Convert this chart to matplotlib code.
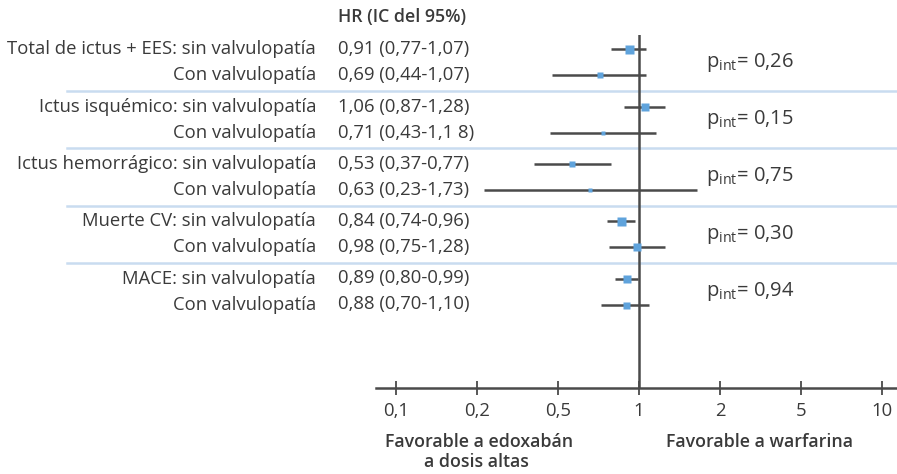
import numpy as np
import matplotlib
matplotlib.use("Agg")
import matplotlib.pyplot as plt
from matplotlib.transforms import blended_transform_factory

plt.rcParams['font.family'] = ['Open Sans', 'DejaVu Sans']
plt.rcParams['mathtext.fontset'] = 'custom'
plt.rcParams['mathtext.rm'] = 'Open Sans'

# datos
labels = [
    "Total de ictus + EES: sin valvulopatía", "Con valvulopatía",
    "Ictus isquémico: sin valvulopatía", "Con valvulopatía",
    "Ictus hemorrágico: sin valvulopatía", "Con valvulopatía",
    "Muerte CV: sin valvulopatía", "Con valvulopatía",
    "MACE: sin valvulopatía", "Con valvulopatía",
]
hr_text = [
    "0,91 (0,77-1,07)", "0,69 (0,44-1,07)",
    "1,06 (0,87-1,28)", "0,71 (0,43-1,1 8)",
    "0,53 (0,37-0,77)", "0,63 (0,23-1,73)",
    "0,84 (0,74-0,96)", "0,98 (0,75-1,28)",
    "0,89 (0,80-0,99)", "0,88 (0,70-1,10)",
]
hr = [0.91, 0.69, 1.06, 0.71, 0.53, 0.63, 0.84, 0.98, 0.89, 0.88]
ci_low = [0.77, 0.44, 0.87, 0.43, 0.37, 0.23, 0.74, 0.75, 0.80, 0.70]
ci_high = [1.07, 1.07, 1.28, 1.18, 0.77, 1.73, 0.96, 1.28, 0.99, 1.10]
p_int = ["0,26", "0,15", "0,75", "0,30", "0,94"]
tick_labels = ["0,1", "0,2", "0,5", "1", "2", "5", "10"]
# tamaño de los cuadrados (px)
box_px = [9, 6, 7.5, 4, 5.5, 3.5, 9, 7.5, 7.5, 7]

dark = "#4a4a4a"
txt = "#3a3a3a"
blue = "#5fa3dc"
sep = "#c9dcf0"

W, H = 897, 474
fig = plt.figure(figsize=(W / 100, H / 100), dpi=100)
ax_left, ax_right = 376, 896
ax_top, ax_bot = 35, 388
ax = fig.add_axes([ax_left / W, 1 - ax_bot / H, (ax_right - ax_left) / W, (ax_bot - ax_top) / H])

# filas: pares de 26 px, grupos cada 57.3 px
row_px = 26.0
group_step = 57.3 / row_px
ypos = [-(i // 2 * group_step + i % 2) for i in range(len(hr))]

ax.set_xscale('log')
px_per_decade = 243.0
x_one = 639
ax.set_xlim(10 ** ((ax_left - x_one) / px_per_decade), 10 ** ((ax_right - x_one) / px_per_decade))
ax.set_ylim(-(ax_bot - 49.3) / row_px, (49.3 - ax_top) / row_px)

for y, h, lo, hi, s in zip(ypos, hr, ci_low, ci_high, box_px):
    ax.plot([lo, hi], [y, y], color=dark, lw=1.8, solid_capstyle='butt', zorder=2)
    ax.plot([h], [y], marker='s', color=blue, markersize=s * 0.72, mec='none', zorder=3)

ax.axvline(1, color=dark, lw=1.8, zorder=2)

# separadores entre grupos
x0 = (67 - ax_left) / (ax_right - ax_left)
x1 = (W - ax_left) / (ax_right - ax_left)
for g in range(len(p_int) - 1):
    yy = -(g * group_step + 1 + (group_step - 1) / 2)
    ax.axhline(yy, xmin=x0, xmax=x1, color=sep, lw=1.8, clip_on=False, zorder=1)

# eje x
ticks = [10 ** (k / 3) for k in range(-3, 4)]
ax.set_xticks(ticks)
ax.set_xticklabels(tick_labels)
ax.xaxis.set_minor_locator(matplotlib.ticker.NullLocator())
ax.set_yticks([])
for sp in ['top', 'right', 'left']:
    ax.spines[sp].set_visible(False)
ax.spines['bottom'].set_color(dark)
ax.spines['bottom'].set_linewidth(1.8)
ax.tick_params(axis='x', direction='inout', length=9.5, width=1.3, color=dark,
               labelsize=13.3, labelcolor=txt, pad=5)
ax.patch.set_visible(False)

fs = 13.3
tr = blended_transform_factory(fig.transFigure, ax.transData)
for y, lab, t in zip(ypos, labels, hr_text):
    fig.text(316 / W, y, lab, transform=tr, ha='right', va='center', fontsize=fs, color=txt)
    fig.text(338 / W, y, t, transform=tr, ha='left', va='center', fontsize=fs, color=txt)

fig.text(338 / W, 1 - 17 / H, "HR (IC del 95%)", ha='left', va='center', fontsize=12.8,
         fontweight='semibold', color=txt)

for g, p in enumerate(p_int):
    y = -(g * group_step + 0.5)
    fig.text(706 / W, y, r"$\mathregular{p_{int}}$" + "= " + p, transform=tr,
             ha='left', va='center', fontsize=14.5, color=txt)

fig.text(479 / W, 1 - 442 / H, "Favorable a edoxabán", ha='center', va='center',
         fontsize=12.8, fontweight='semibold', color=txt)
fig.text(476 / W, 1 - 462 / H, "a dosis altas", ha='center', va='center',
         fontsize=12.8, fontweight='semibold', color=txt)
fig.text(760 / W, 1 - 442 / H, "Favorable a warfarina", ha='center', va='center',
         fontsize=12.8, fontweight='semibold', color=txt)

fig.savefig("out.png", dpi=100)
